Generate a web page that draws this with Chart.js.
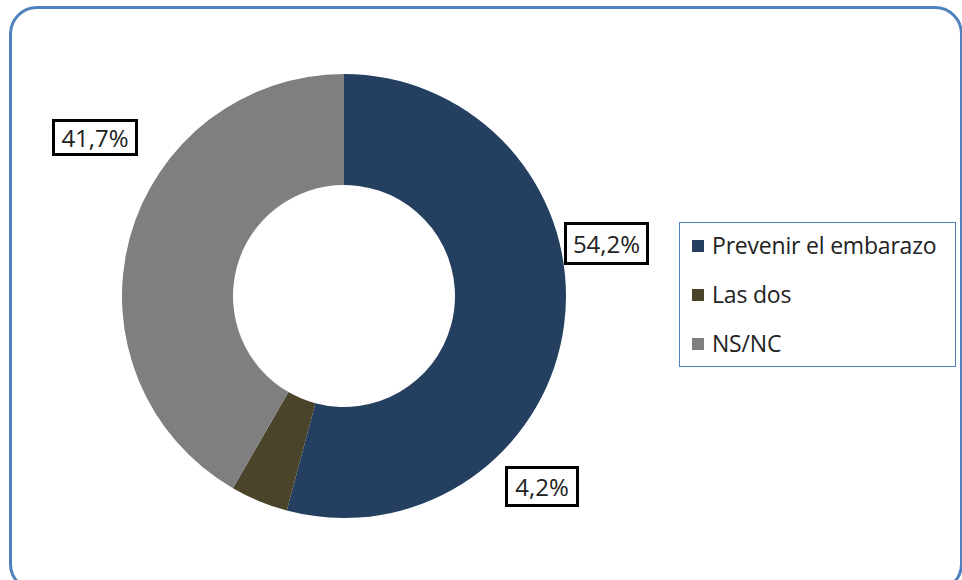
<!DOCTYPE html>
<html>
<head>
<meta charset="utf-8">
<script src="https://cdn.jsdelivr.net/npm/chart.js@4"></script>
<style>
  body { margin: 0; background: #fff; font-family: "Open Sans", sans-serif; }
  #frame { position: absolute; left: 9px; top: 6px; width: 948px; height: 580px;
    border: 3px solid #4f81bd; border-radius: 28px; }
  #wrap { position: absolute; left: 122px; top: 74px; width: 444px; height: 444px; }
  .lbl { position: absolute; border: 3px solid #000; background: #fff; color: #222;
    font-size: 24px; text-align: center; box-sizing: border-box; }
  #legend { position: absolute; left: 679px; top: 222px; width: 277px; height: 145px;
    border: 1px solid #4f81bd; box-sizing: border-box; }
  .item { position: absolute; left: 12px; font-size: 23px; color: #222; white-space: nowrap;
    letter-spacing: -0.2px; }
  .sw { display: inline-block; width: 12px; height: 12px; margin-right: 8px; vertical-align: 2px; }
</style>
</head>
<body>
<div id="frame"></div>
<div id="wrap"><canvas id="pie-chart"></canvas></div>
<div id="legend"></div>
<div class="lbl" style="left:52px;top:119px;width:86px;height:37px;line-height:31px">41,7%</div>
<div class="lbl" style="left:564px;top:222px;width:85px;height:43px;line-height:37px">54,2%</div>
<div class="lbl" style="left:505px;top:466px;width:74px;height:41px;line-height:35px">4,2%</div>
<script>
var labels = ["Prevenir el embarazo", "Las dos", "NS/NC"];
var values = [54.2, 4.2, 41.7];
var colors = ["#243f60", "#4a452a", "#7f7f7f"];

var legend = document.getElementById("legend");
labels.forEach(function (l, i) {
  var d = document.createElement("div");
  d.className = "item";
  d.style.top = (6 + i * 49) + "px";
  d.innerHTML = '<span class="sw" style="background:' + colors[i] + '"></span>' + l;
  legend.appendChild(d);
});

new Chart(document.getElementById("pie-chart"), {
  type: 'doughnut',
  data: {
    labels: labels,
    datasets: [{
      data: values,
      backgroundColor: colors,
      borderWidth: 0
    }]
  },
  options: {
    maintainAspectRatio: false,
    responsive: true,
    animation: false,
    cutout: '50%',
    layout: { padding: 0 },
    plugins: { legend: { display: false }, tooltip: { enabled: false } }
  }
});
</script>
</body>
</html>
